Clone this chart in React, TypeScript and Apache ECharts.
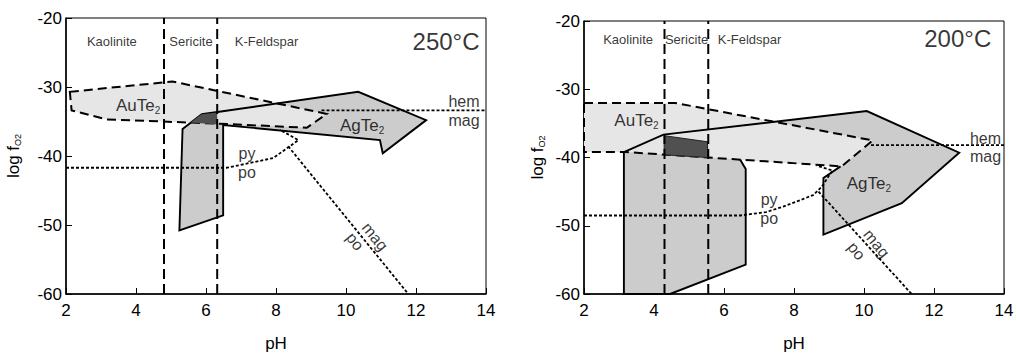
import React, { useEffect, useRef } from "react";
import * as echarts from "echarts";

// ---------- axes ----------
const xTicks = [2, 4, 6, 8, 10, 12, 14];
const yTicks = [-60, -50, -40, -30, -20];

// ---------- 250°C (left panel) ----------
const fieldBounds250 = [4.8, 6.32];
const auTe2_250 = [[2.11, -30.7], [5.04, -29.2], [9.45, -33.9], [8.88, -35.9], [6.3, -35.3], [3.16, -34.7], [2.16, -33.4]];
const agTe2_250 = [[5.33, -36.1], [5.88, -33.95], [10.35, -30.7], [12.29, -34.8], [11.05, -39.6], [10.97, -37.7], [6.49, -35.5], [6.49, -48.6], [5.24, -50.8]];
const overlap_250 = [[5.56, -35.14], [5.87, -33.96], [6.32, -33.71], [6.32, -35.43]];
const hemMag_250 = [[9.3, -33.4], [14, -33.4]];
const pyPo_250 = [[2, -41.7], [6.6, -41.7], [7.92, -40.3], [8.64, -37.7], [8.11, -36.2]];
const magPo_250 = [[8.35, -38.6], [11.78, -60]];
const fieldLabels250 = [[3.31, -23.4, "Kaolinite"], [5.57, -23.4, "Sericite"], [7.73, -23.4, "K-Feldspar"]];
const tempLabel250 = [[13.83, -23.4, "250°C"]];
const mineralLabels250 = [[4.06, -32.7, "{m|AuTe}{s|2}"], [10.46, -35.6, "{m|AgTe}{s|2}"]];
const rightLabels250 = [[13.83, -32.1, "hem"], [13.83, -34.9, "mag"]];
const pyPoLabels250 = [[7.17, -39.7, "py"], [7.17, -42.4, "po"]];
const rotLabels250 = [[10.83, -51.7, "mag"], [10.26, -52.4, "po"]];

// ---------- 200°C (right panel) ----------
const fieldBounds200 = [4.3, 5.55];
const auTe2_200 = [[2, -32], [4.6, -32], [10.25, -37.5], [9.36, -41.3], [3.2, -39.2], [2, -39.2]];
const agTe2_200 = [[6.46, -40.3], [6.62, -41.7], [6.62, -55.7], [4.46, -60], [3.14, -60], [3.14, -39.2], [4.27, -36.65], [10.08, -33.2], [12.72, -39.3], [11.08, -46.7], [8.84, -51.3], [8.84, -43.0], [9.33, -41.3]];
const overlap_200 = [[4.29, -36.8], [5.53, -37.7], [5.53, -40.0], [4.29, -39.6]];
const hemMag_200 = [[10.2, -38.2], [14, -38.2]];
const pyPo_200 = [[2, -48.5], [6.46, -48.5], [7.2, -48.0], [7.69, -47.2], [8.2, -46.2], [8.55, -45.5], [8.79, -44.3], [9.1, -41.9], [8.65, -41.2]];
const magPo_200 = [[8.7, -45.0], [11.36, -60]];
const fieldLabels200 = [[3.26, -22.7, "Kaolinite"], [4.93, -22.7, "Sericite"], [6.73, -22.7, "K-Feldspar"]];
const tempLabel200 = [[13.65, -22.6, "200°C"]];
const mineralLabels200 = [[3.5, -34.6, "{m|AuTe}{s|2}"], [10.14, -43.8, "{m|AgTe}{s|2}"]];
const rightLabels200 = [[13.93, -37.2, "hem"], [13.93, -39.9, "mag"]];
const pyPoLabels200 = [[7.29, -46.2, "py"], [7.29, -49.0, "po"]];
const rotLabels200 = [[10.36, -52.6, "mag"], [9.79, -53.7, "po"]];

const FONT = "'Liberation Sans', Arial, sans-serif";
const C_AU = "#e6e6e6";
const C_AG = "#cccccc";
const C_DARK = "#505050";

function polygonSeries(g: number, pts: number[][], style: any, z: number, closed = true) {
  return {
    type: "custom",
    xAxisIndex: g,
    yAxisIndex: g,
    z,
    silent: true,
    clip: false,
    data: pts,
    renderItem: (params: any, api: any) => {
      if (params.dataIndex !== 0) return null;
      const points = pts.map((p) => api.coord(p));
      return { type: closed ? "polygon" : "polyline", shape: { points }, style };
    },
  };
}

function lineSeries(g: number, pts: number[][], dash: any, width: number, z: number) {
  return {
    type: "line",
    xAxisIndex: g,
    yAxisIndex: g,
    z,
    silent: true,
    symbol: "none",
    data: pts,
    lineStyle: { color: "#000", width, type: dash },
  };
}

const rich = {
  m: { fontSize: 17, fontFamily: FONT, color: "#000", lineHeight: 20 },
  s: { fontSize: 10, fontFamily: FONT, color: "#000", verticalAlign: "bottom", lineHeight: 10 },
};

function labelSeries(g: number, items: any[][], fontSize: number, opts: any = {}) {
  return {
    type: "scatter",
    xAxisIndex: g,
    yAxisIndex: g,
    z: 20,
    silent: true,
    symbolSize: 1,
    itemStyle: { color: "rgba(0,0,0,0)" },
    data: items.map((l) => ({ value: [l[0], l[1]], name: l[2] })),
    label: {
      show: true,
      position: opts.position || "inside",
      distance: 0,
      rotate: opts.rotate || 0,
      formatter: (p: any) => p.name,
      fontSize,
      fontFamily: FONT,
      color: "#000",
      rich,
    },
  };
}

function panelSeries(g: number, d: any) {
  const s: any[] = [];
  s.push(polygonSeries(g, d.ag, { fill: C_AG, stroke: "none" }, 3));
  s.push(polygonSeries(g, d.au, { fill: C_AU, stroke: "#000", lineWidth: 2, lineDash: [9, 5] }, 4));
  s.push(polygonSeries(g, d.ag, { fill: "none", stroke: "#000", lineWidth: 1.9 }, 5, d.agClosed));
  s.push(polygonSeries(g, d.dark, { fill: C_DARK, stroke: d.darkStroke ? "#222" : "none", lineWidth: 1 }, 6));
  d.bounds.forEach((b: number) => s.push(lineSeries(g, [[b, -60], [b, -20]], [10, 5], 2, 8)));
  s.push(lineSeries(g, d.hemMag, [3, 2], 1.8, 7));
  s.push(lineSeries(g, d.pyPo, [3, 2], 1.8, 7));
  s.push(lineSeries(g, d.magPo, [3, 2], 1.8, 7));
  s.push(labelSeries(g, d.fieldLabels, 13));
  s.push(labelSeries(g, d.temp, 24, { position: "left" }));
  s.push(labelSeries(g, d.minerals, 17));
  s.push(labelSeries(g, d.rightLabels, 16, { position: "left" }));
  s.push(labelSeries(g, d.pyPoLabels, 16));
  s.push(labelSeries(g, d.rotLabels, 16, { rotate: -51 }));
  return s;
}

function makeXAxis(g: number) {
  return {
    type: "value",
    gridIndex: g,
    min: 2,
    max: 14,
    interval: 2,
    name: "pH",
    nameLocation: "middle",
    nameGap: 41,
    nameTextStyle: { fontSize: 17, fontFamily: FONT, color: "#000" },
    axisLine: { lineStyle: { color: "#000", width: 1.5 } },
    axisTick: { inside: true, length: 6, lineStyle: { color: "#000", width: 1 } },
    axisLabel: { fontSize: 17, fontFamily: FONT, color: "#000", margin: 8 },
    splitLine: { show: false },
  };
}

function makeYAxis(g: number, gap: number) {
  return {
    type: "value",
    gridIndex: g,
    min: -60,
    max: -20,
    interval: 10,
    name: "log f{s|O2}",
    nameLocation: "middle",
    nameRotate: 90,
    nameGap: gap,
    nameTextStyle: {
      fontSize: 17,
      fontFamily: FONT,
      color: "#000",
      rich: {
        s: { fontSize: 9, fontFamily: FONT, color: "#000", verticalAlign: "bottom", lineHeight: 8 },
      },
    },
    axisLine: { lineStyle: { color: "#000", width: 1.5 } },
    axisTick: { inside: true, length: 6, lineStyle: { color: "#000", width: 1 } },
    axisLabel: { fontSize: 17, fontFamily: FONT, color: "#000", margin: 4 },
    splitLine: { show: false },
  };
}

export default function App() {
  const ref = useRef<HTMLDivElement>(null);
  useEffect(() => {
    document.body.style.margin = "0";
    const chart = echarts.init(ref.current!, null, { renderer: "svg" });
    const option: any = {
      animation: false,
      textStyle: { fontFamily: FONT },
      grid: [
        { left: 66, top: 18, width: 420, height: 280, show: true, borderColor: "#000", borderWidth: 1, backgroundColor: "transparent" },
        { left: 584, top: 21, width: 420, height: 278, show: true, borderColor: "#000", borderWidth: 1, backgroundColor: "transparent" },
      ],
      xAxis: [makeXAxis(0), makeXAxis(1)],
      yAxis: [makeYAxis(0, 44), makeYAxis(1, 38)],
      series: [
        ...panelSeries(0, {
          ag: agTe2_250, agClosed: true, au: auTe2_250, dark: overlap_250, darkStroke: false,
          bounds: fieldBounds250, hemMag: hemMag_250, pyPo: pyPo_250, magPo: magPo_250,
          fieldLabels: fieldLabels250, temp: tempLabel250, minerals: mineralLabels250,
          rightLabels: rightLabels250, pyPoLabels: pyPoLabels250, rotLabels: rotLabels250,
        }),
        ...panelSeries(1, {
          ag: agTe2_200, agClosed: false, au: auTe2_200, dark: overlap_200, darkStroke: true,
          bounds: fieldBounds200, hemMag: hemMag_200, pyPo: pyPo_200, magPo: magPo_200,
          fieldLabels: fieldLabels200, temp: tempLabel200, minerals: mineralLabels200,
          rightLabels: rightLabels200, pyPoLabels: pyPoLabels200, rotLabels: rotLabels200,
        }),
      ],
    };
    void xTicks;
    void yTicks;
    chart.setOption(option);
    return () => chart.dispose();
  }, []);
  return <div ref={ref} style={{ width: 1017, height: 357 }} />;
}
